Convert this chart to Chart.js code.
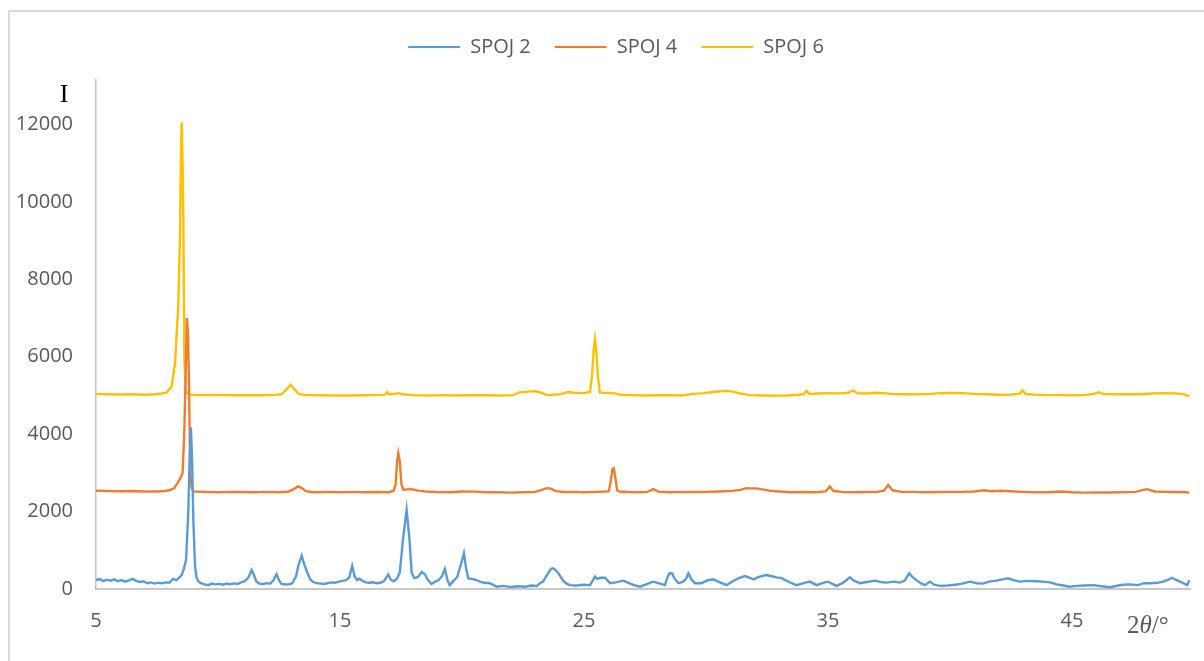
<!DOCTYPE html>
<html>
<head>
<meta charset="utf-8">
<script src="https://cdn.jsdelivr.net/npm/chart.js@4.4.0/dist/chart.umd.min.js"></script>
<style>
  html, body { margin: 0; padding: 0; background: #fff; overflow: hidden; }
  #frame { position: absolute; left: 8px; top: 10px; width: 1300px; height: 800px; border: 2px solid #d9d9d9; }
  #wrap { position: absolute; left: 0; top: 0; width: 1204px; height: 661px; }
</style>
</head>
<body>
<div id="frame"></div>
<div id="wrap"><canvas id="xrdChart"></canvas></div>
<script>
// series labels + colours
const seriesNames = ['SPOJ 2', 'SPOJ 4', 'SPOJ 6'];
const seriesColors = ['#5B9BD5', '#ED7D31', '#FFC000'];

// axis ticks
const xTicks = [5, 15, 25, 35, 45];
const yTicks = [0, 2000, 4000, 6000, 8000, 10000, 12000];
const xTitle = ['2', 'θ', '/°'];
const yTitle = 'I';

// [2theta, intensity]
const spoj2 = [
    [5.0,230],[5.15,255],[5.3,205],[5.45,240],[5.6,215],[5.75,250],[5.9,200],[6.05,230],[6.2,190],[6.35,220],
    [6.5,260],[6.65,210],[6.8,180],[6.95,200],[7.1,150],[7.25,170],[7.4,140],[7.55,165],[7.7,145],[7.85,170],
    [8.0,160],[8.16,260],[8.3,230],[8.42,300],[8.51,360],[8.6,520],[8.69,750],[8.78,1960],[8.84,3400],[8.89,4180],
    [8.94,3300],[8.99,1780],[9.06,580],[9.12,300],[9.19,200],[9.3,150],[9.45,120],[9.6,100],[9.75,140],[9.9,120],
    [10.05,135],[10.2,110],[10.35,140],[10.5,125],[10.65,145],[10.8,130],[10.95,170],[11.1,200],[11.25,300],[11.38,490],
    [11.48,350],[11.58,190],[11.7,140],[11.85,130],[12.0,150],[12.15,140],[12.28,230],[12.4,385],[12.5,230],[12.6,130],
    [12.75,115],[12.9,120],[13.05,150],[13.2,330],[13.3,620],[13.43,860],[13.53,650],[13.65,440],[13.78,250],[13.9,180],
    [14.05,150],[14.2,140],[14.35,130],[14.5,150],[14.65,170],[14.8,160],[14.95,190],[15.1,210],[15.25,230],[15.38,300],
    [15.5,595],[15.6,330],[15.7,230],[15.8,265],[15.9,220],[16.05,170],[16.2,160],[16.35,175],[16.5,150],[16.65,160],
    [16.8,200],[16.9,300],[16.98,370],[17.08,240],[17.2,200],[17.33,260],[17.45,420],[17.58,1270],[17.73,2050],[17.85,1270],
    [17.94,410],[18.05,280],[18.2,310],[18.35,440],[18.48,380],[18.6,240],[18.75,130],[18.9,190],[19.05,230],[19.18,330],
    [19.3,520],[19.42,200],[19.5,100],[19.65,210],[19.8,300],[19.95,620],[20.08,925],[20.17,520],[20.26,275],[20.4,260],
    [20.55,240],[20.74,190],[20.9,160],[21.15,150],[21.42,60],[21.7,80],[22.0,50],[22.3,70],[22.6,60],[22.85,90],
    [23.07,80],[23.2,150],[23.32,190],[23.5,380],[23.65,520],[23.74,535],[23.85,480],[23.95,405],[24.15,215],[24.3,130],
    [24.43,100],[24.7,90],[25.0,110],[25.25,100],[25.45,320],[25.55,260],[25.66,290],[25.86,290],[26.07,150],[26.3,170],
    [26.61,215],[26.85,150],[27.05,100],[27.3,60],[27.55,120],[27.83,190],[28.05,150],[28.32,100],[28.42,300],[28.5,405],
    [28.62,400],[28.7,280],[28.87,150],[29.05,180],[29.18,260],[29.28,405],[29.4,250],[29.55,150],[29.82,150],[30.05,220],
    [30.3,250],[30.55,180],[30.85,100],[31.1,200],[31.35,280],[31.6,335],[31.8,290],[31.94,250],[32.2,320],[32.48,360],
    [32.7,330],[32.9,300],[33.1,280],[33.4,180],[33.71,100],[34.0,150],[34.26,190],[34.53,100],[34.8,160],[35.0,190],
    [35.35,80],[35.6,150],[35.9,300],[36.05,220],[36.31,150],[36.6,180],[36.93,215],[37.15,180],[37.4,165],[37.7,190],
    [37.95,165],[38.15,220],[38.33,405],[38.45,320],[38.63,230],[38.8,150],[38.98,100],[39.18,190],[39.35,110],[39.6,80],
    [39.9,90],[40.2,110],[40.5,140],[40.82,190],[41.1,150],[41.36,140],[41.6,190],[41.9,215],[42.15,250],[42.39,275],
    [42.6,230],[42.87,190],[43.2,210],[43.5,200],[43.83,190],[44.1,170],[44.37,120],[44.65,90],[44.92,60],[45.2,80],
    [45.5,90],[45.87,100],[46.2,70],[46.56,45],[46.9,90],[47.1,110],[47.38,120],[47.7,100],[47.95,150],[48.2,147],
    [48.5,160],[48.74,190],[48.95,240],[49.09,290],[49.25,240],[49.43,190],[49.6,140],[49.73,100],[49.81,230]
];

const spoj4 = [
    [5.0,2540],[5.5,2530],[6.0,2525],[6.5,2530],[7.0,2520],[7.5,2520],[7.8,2530],[8.0,2550],[8.2,2600],[8.35,2750],
    [8.45,2850],[8.55,3000],[8.62,4100],[8.67,5400],[8.72,7000],[8.77,6600],[8.81,5400],[8.86,3000],[8.92,2600],[9.0,2520],
    [9.5,2510],[10.0,2500],[10.5,2510],[11.0,2505],[11.5,2500],[12.0,2510],[12.5,2500],[12.9,2520],[13.1,2580],[13.29,2650],
    [13.45,2600],[13.6,2530],[13.9,2500],[14.5,2510],[15.0,2500],[15.5,2510],[16.0,2500],[16.5,2505],[17.0,2500],[17.2,2540],
    [17.28,2700],[17.34,3300],[17.39,3510],[17.45,3300],[17.52,2700],[17.6,2560],[17.8,2580],[18.0,2570],[18.2,2540],[18.5,2520],
    [19.0,2505],[19.5,2500],[20.0,2520],[20.5,2515],[21.0,2500],[21.5,2500],[22.0,2490],[22.5,2500],[23.0,2510],[23.3,2570],
    [23.47,2605],[23.65,2590],[23.85,2530],[24.2,2505],[24.6,2510],[25.0,2500],[25.5,2510],[25.9,2520],[26.02,2530],[26.1,2800],
    [26.17,3100],[26.22,3120],[26.28,2900],[26.36,2550],[26.45,2520],[26.8,2505],[27.2,2500],[27.6,2510],[27.84,2580],[28.05,2515],
    [28.5,2500],[29.0,2510],[29.5,2505],[30.0,2510],[30.5,2520],[31.0,2530],[31.4,2560],[31.65,2605],[31.8,2600],[32.07,2600],
    [32.3,2575],[32.6,2540],[33.0,2520],[33.5,2500],[34.0,2505],[34.5,2500],[34.9,2520],[35.08,2650],[35.22,2530],[35.6,2510],
    [36.0,2500],[36.5,2505],[37.0,2510],[37.3,2540],[37.47,2690],[37.65,2550],[38.0,2510],[38.5,2510],[39.0,2500],[39.5,2505],
    [40.0,2510],[40.5,2510],[41.0,2520],[41.4,2550],[41.7,2525],[42.1,2540],[42.5,2525],[43.0,2510],[43.5,2500],[44.0,2500],
    [44.6,2520],[45.0,2500],[45.5,2490],[46.0,2495],[46.5,2495],[47.0,2500],[47.6,2510],[48.06,2580],[48.4,2520],[48.8,2510],
    [49.3,2505],[49.7,2500],[49.81,2475]
];

const spoj6 = [
    [5.0,5040],[5.5,5030],[6.0,5025],[6.5,5030],[7.0,5020],[7.4,5030],[7.7,5050],[7.9,5080],[8.1,5235],[8.24,5840],
    [8.37,7300],[8.44,9030],[8.48,11180],[8.51,12050],[8.55,11000],[8.58,9470],[8.62,6010],[8.67,5200],[8.72,5070],[8.8,5020],
    [9.2,5010],[9.7,5015],[10.2,5010],[10.7,5005],[11.2,5010],[11.7,5005],[12.2,5010],[12.6,5030],[12.8,5150],[12.98,5280],
    [13.15,5150],[13.3,5040],[13.6,5010],[14.2,5005],[14.8,5000],[15.4,5000],[16.0,5005],[16.5,5010],[16.85,5020],[16.94,5090],
    [17.0,5030],[17.2,5040],[17.39,5060],[17.6,5030],[18.0,5010],[18.6,5000],[19.2,5010],[19.8,5000],[20.4,5010],[21.0,5005],
    [21.6,5000],[22.1,5010],[22.35,5080],[22.7,5100],[23.0,5110],[23.25,5070],[23.5,5010],[24.0,5030],[24.36,5090],[24.6,5070],
    [25.0,5060],[25.25,5100],[25.33,5500],[25.4,6200],[25.45,6460],[25.5,6200],[25.57,5500],[25.65,5080],[25.9,5060],[26.2,5060],
    [26.5,5020],[27.0,5010],[27.5,5000],[28.0,5005],[28.5,5010],[29.0,5000],[29.5,5040],[29.9,5060],[30.3,5090],[30.6,5110],
    [30.85,5120],[31.1,5100],[31.4,5050],[31.8,5010],[32.3,5000],[32.8,4995],[33.3,5000],[33.8,5020],[34.0,5030],[34.12,5120],
    [34.25,5040],[34.6,5050],[35.0,5060],[35.5,5055],[35.85,5070],[36.04,5130],[36.2,5060],[36.5,5050],[37.0,5070],[37.3,5060],
    [37.6,5040],[38.0,5030],[38.6,5030],[39.2,5040],[39.6,5060],[40.0,5065],[40.5,5060],[41.0,5040],[41.5,5030],[42.0,5020],
    [42.5,5025],[42.85,5040],[42.98,5130],[43.1,5040],[43.5,5020],[44.0,5010],[44.5,5010],[45.0,5005],[45.5,5010],[45.9,5040],
    [46.08,5080],[46.3,5040],[46.8,5030],[47.3,5030],[47.8,5030],[48.3,5050],[48.8,5060],[49.3,5050],[49.6,5030],[49.81,4975]
];

const toXY = pts => pts.map(p => ({ x: p[0], y: p[1] }));

// legend sits a bit above the plot and a little right of centre
const legendPlace = {
    id: 'legendPlace',
    beforeInit(chart) {
        const fit = chart.legend.fit;
        chart.legend.fit = function () {
            fit.call(this);
            this.height += 13;
        };
    },
    afterLayout(chart) {
        chart.legend.left += 42;
    }
};

// "I" at the top of the y axis, 2θ/° at the end of the x axis
const axisText = {
    id: 'axisText',
    afterDraw(chart) {
        const ctx = chart.ctx;
        const area = chart.chartArea;
        ctx.save();
        ctx.textBaseline = 'alphabetic';
        ctx.fillStyle = '#000';
        ctx.textAlign = 'center';
        ctx.font = '26px "Liberation Serif"';
        ctx.fillText(yTitle, area.left - 32, area.top + 22);

        ctx.fillStyle = '#595959';
        ctx.textAlign = 'left';
        let x = area.right - 63;
        const y = area.bottom + 44;
        xTitle.forEach((part, i) => {
            ctx.font = (i === 1 ? 'italic ' : '') + '25px "Liberation Serif"';
            ctx.fillText(part, x, y);
            x += ctx.measureText(part).width;
        });
        ctx.restore();
    }
};

document.addEventListener('DOMContentLoaded', () => {
    const ctx = document.getElementById('xrdChart').getContext('2d');
    const allSeries = [spoj2, spoj4, spoj6];

    new Chart(ctx, {
        type: 'line',
        data: {
            datasets: allSeries.map((pts, i) => ({
                label: seriesNames[i],
                data: toXY(pts),
                borderColor: seriesColors[i],
                backgroundColor: seriesColors[i],
                borderWidth: 2.4,
                pointRadius: 0,
                tension: 0,
                fill: false
            }))
        },
        options: {
            responsive: true,
            maintainAspectRatio: false,
            animation: false,
            layout: { padding: { left: 0, right: 14, top: 13, bottom: 0 } },
            plugins: {
                legend: {
                    position: 'top',
                    labels: {
                        boxWidth: 52,
                        boxHeight: 2,
                        padding: 24,
                        color: '#595959',
                        font: { family: '"Open Sans"', size: 20 },
                        generateLabels: (chart) => Chart.defaults.plugins.legend.labels.generateLabels(chart)
                            .map(l => Object.assign(l, { lineWidth: 0, fillStyle: l.strokeStyle }))
                    }
                },
                tooltip: { enabled: false }
            },
            scales: {
                x: {
                    type: 'linear',
                    min: 5,
                    max: 49.84,
                    afterBuildTicks: axis => { axis.ticks = xTicks.map(v => ({ value: v })); },
                    afterFit: scale => { scale.height = 72; },
                    grid: { display: false, drawTicks: false },
                    border: { display: true, color: '#c8c8c8', width: 2 },
                    ticks: {
                        padding: 20,
                        maxRotation: 0,
                        color: '#595959',
                        font: { family: '"Open Sans"', size: 20 },
                        callback: v => String(v)
                    }
                },
                y: {
                    type: 'linear',
                    min: 0,
                    max: 13150,
                    afterBuildTicks: axis => { axis.ticks = yTicks.map(v => ({ value: v })); },
                    afterFit: scale => { scale.width = 96; },
                    grid: { display: false, drawTicks: false },
                    border: { display: true, color: '#c0c0c0', width: 1.5 },
                    ticks: {
                        padding: 23,
                        color: '#595959',
                        font: { family: '"Open Sans"', size: 20 },
                        callback: v => String(v)
                    }
                }
            }
        },
        plugins: [legendPlace, axisText]
    });
});
</script>
</body>
</html>
